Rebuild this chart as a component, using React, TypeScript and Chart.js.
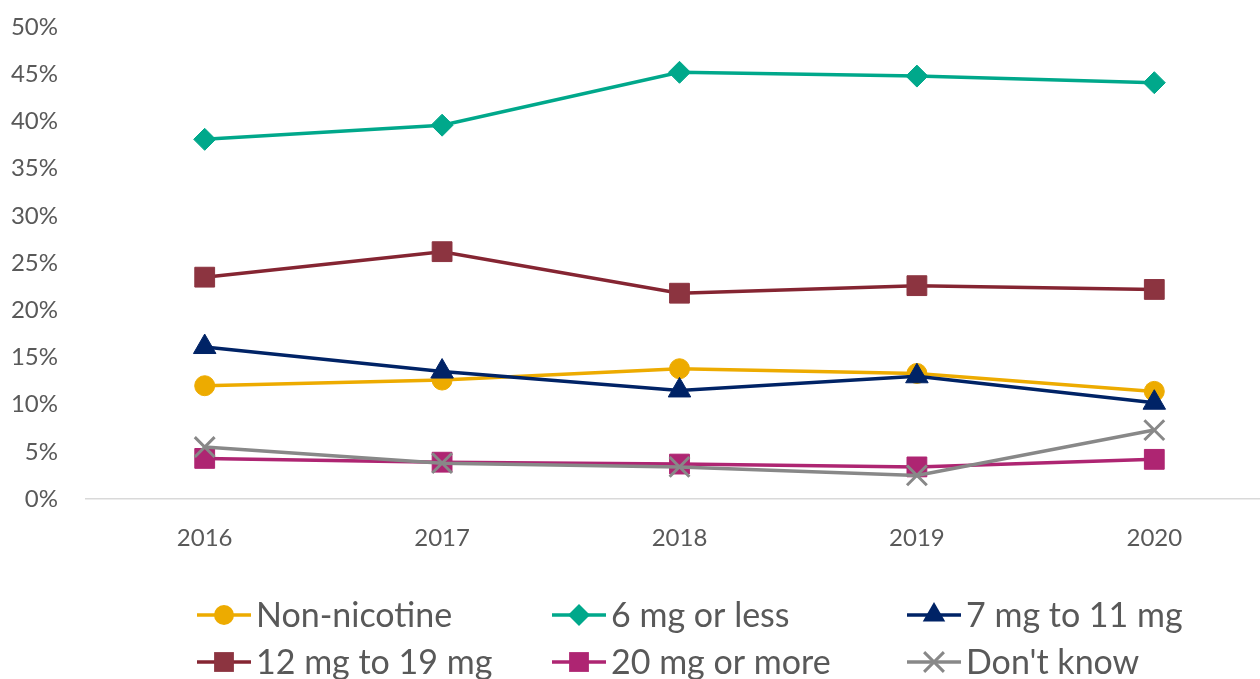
import React, { useEffect, useRef } from "react";
import { Chart, registerables } from "chart.js";

Chart.register(...registerables);

const years = ["2016", "2017", "2018", "2019", "2020"];
const yTicks = [0, 5, 10, 15, 20, 25, 30, 35, 40, 45, 50];

const nonNicotine = [12.0, 12.6, 13.8, 13.3, 11.4];
const sixOrLess = [38.1, 39.6, 45.2, 44.8, 44.1];
const sevenToEleven = [16.1, 13.5, 11.5, 13.0, 10.2];
const twelveToNineteen = [23.5, 26.2, 21.8, 22.6, 22.2];
const twentyOrMore = [4.3, 3.9, 3.7, 3.4, 4.2];
const dontKnow = [5.5, 3.8, 3.4, 2.5, 7.3];

const seriesNames = [
  "Non-nicotine",
  "6 mg or less",
  "7 mg to 11 mg",
  "12 mg to 19 mg",
  "20 mg or more",
  "Don't know",
];

const FONT = "Lato, 'Open Sans', sans-serif";
const TEXT = "#595959";

function drawMarker(ctx: CanvasRenderingContext2D, style: string, r: number, x: number, y: number) {
  ctx.beginPath();
  if (style === "circle") {
    ctx.arc(x, y, r, 0, Math.PI * 2);
    ctx.fill();
  } else if (style === "rectRot") {
    ctx.moveTo(x, y - r);
    ctx.lineTo(x + r, y);
    ctx.lineTo(x, y + r);
    ctx.lineTo(x - r, y);
    ctx.closePath();
    ctx.fill();
  } else if (style === "triangle") {
    ctx.moveTo(x, y - r);
    ctx.lineTo(x + r * Math.sin((2 * Math.PI) / 3), y + r / 2);
    ctx.lineTo(x - r * Math.sin((2 * Math.PI) / 3), y + r / 2);
    ctx.closePath();
    ctx.fill();
  } else if (style === "rect") {
    const s = r * Math.SQRT1_2;
    ctx.rect(x - s, y - s, 2 * s, 2 * s);
    ctx.fill();
  } else if (style === "crossRot") {
    const s = r * Math.SQRT1_2;
    ctx.moveTo(x - s, y - s);
    ctx.lineTo(x + s, y + s);
    ctx.moveTo(x + s, y - s);
    ctx.lineTo(x - s, y + s);
    ctx.stroke();
  }
}

const legendPlugin = {
  id: "gridLegend",
  afterDraw(chart: any) {
    const ctx = chart.ctx;
    ctx.save();
    chart.data.datasets.forEach((ds: any, i: number) => {
      const col = i % 3;
      const row = Math.floor(i / 3);
      const x0 = 197 + col * 355;
      const y = 615 + row * 47;
      ctx.strokeStyle = ds.borderColor;
      ctx.lineWidth = 3.5;
      ctx.beginPath();
      ctx.moveTo(x0, y);
      ctx.lineTo(x0 + 54, y);
      ctx.stroke();
      ctx.fillStyle = ds.pointBackgroundColor;
      ctx.strokeStyle = ds.pointBorderColor;
      ctx.lineWidth = 3;
      drawMarker(ctx, ds.pointStyle, ds.pointRadius, x0 + 27, y);
      ctx.fillStyle = TEXT;
      ctx.font = `34px ${FONT}`;
      ctx.textBaseline = "middle";
      ctx.textAlign = "left";
      ctx.fillText(ds.label, x0 + 59, y + 1);
    });
    ctx.restore();
  },
};

export default function App() {
  const ref = useRef<HTMLCanvasElement | null>(null);

  useEffect(() => {
    if (!ref.current) return;
    const mk = (i: number, data: number[], color: string, style: string, radius: number, fill?: string, bw = 1) => ({
      label: seriesNames[i],
      data,
      borderColor: color,
      backgroundColor: color,
      borderWidth: 3.5,
      pointStyle: style,
      pointRadius: radius,
      pointHoverRadius: radius,
      pointBackgroundColor: fill || color,
      pointBorderColor: fill || color,
      pointBorderWidth: bw,
      tension: 0,
      order: 5 - i,
    });
    const chart = new Chart(ref.current, {
      type: "line",
      data: {
        labels: years,
        datasets: [
          mk(0, nonNicotine, "#EDAB00", "circle", 10),
          mk(1, sixOrLess, "#00A88B", "rectRot", 11),
          mk(2, sevenToEleven, "#002366", "triangle", 13),
          mk(3, twelveToNineteen, "#852532", "rect", 14, "#8C3440"),
          mk(4, twentyOrMore, "#AE2572", "rect", 14),
          mk(5, dontKnow, "#888888", "crossRot", 14, "#888888", 3),
        ] as any,
      },
      options: {
        responsive: false,
        animation: false,
        devicePixelRatio: 1,
        layout: { padding: { left: 0, right: 7, top: 27, bottom: 0 } },
        plugins: { legend: { display: false }, tooltip: { enabled: false } },
        scales: {
          x: {
            offset: true,
            grid: { display: false, drawTicks: false },
            border: { display: true, color: "#D9D9D9", width: 1.5 },
            ticks: { color: TEXT, font: { family: FONT, size: 24 }, padding: 25, maxRotation: 0 },
            afterFit: (s: any) => {
              s.height = 180;
            },
          },
          y: {
            min: 0,
            max: 50,
            afterBuildTicks: (s: any) => {
              s.ticks = yTicks.map((v) => ({ value: v }));
            },
            grid: {
              display: true,
              drawOnChartArea: false,
              drawTicks: true,
              tickLength: 28,
              tickColor: "rgba(0,0,0,0)",
            },
            border: { display: false },
            ticks: {
              color: TEXT,
              font: { family: FONT, size: 24 },
              padding: 0,
              callback: (v: any) => `${v}%`,
            },
            afterFit: (s: any) => {
              s.width = 86;
            },
          },
        },
      },
      plugins: [legendPlugin],
    } as any);
    return () => chart.destroy();
  }, []);

  return (
    <div style={{ position: "absolute", left: 0, top: 0, width: 1260, height: 679, overflow: "hidden", background: "#fff" }}>
      <canvas ref={ref} width={1290} height={679} style={{ display: "block" }} />
    </div>
  );
}
